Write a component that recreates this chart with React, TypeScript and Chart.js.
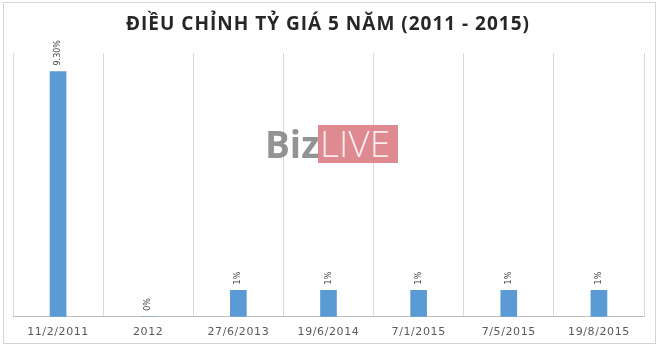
import React, { useEffect, useRef } from "react";
import { Chart, registerables } from "chart.js";

Chart.register(...registerables);

const titleText = "ĐIỀU CHỈNH TỶ GIÁ 5 NĂM (2011 - 2015)";
const categories = ["11/2/2011", "2012", "27/6/2013", "19/6/2014", "7/1/2015", "7/5/2015", "19/8/2015"];
const values = [9.3, 0, 1, 1, 1, 1, 1];
const valueLabels = ["9.30%", "0%", "1%", "1%", "1%", "1%", "1%"];
const yMax = 10;

const decorPlugin = {
  id: "decor",
  beforeDraw(chart: any) {
    const ctx = chart.ctx;
    ctx.save();
    ctx.fillStyle = "#ffffff";
    ctx.fillRect(0, 0, chart.width, chart.height);
    ctx.strokeStyle = "#d4d4d4";
    ctx.lineWidth = 1;
    ctx.strokeRect(3.5, 2.5, 652, 341);
    ctx.fillStyle = "#262626";
    ctx.font = "bold 19px 'Open Sans'";
    (ctx as any).letterSpacing = "1px";
    ctx.textAlign = "center";
    ctx.textBaseline = "alphabetic";
    ctx.fillText(titleText, 328, 30);
    ctx.restore();
    // spacing for the category labels drawn next
    (ctx as any).letterSpacing = "0.6px";
  },
  beforeDatasetsDraw(chart: any) {
    (chart.ctx as any).letterSpacing = "0px";
  },
  afterDatasetsDraw(chart: any) {
    const ctx = chart.ctx;
    const meta = chart.getDatasetMeta(0);
    ctx.save();
    ctx.fillStyle = "#404040";
    ctx.font = "8px 'DejaVu Sans'";
    ctx.textAlign = "left";
    ctx.textBaseline = "middle";
    meta.data.forEach((bar: any, i: number) => {
      ctx.save();
      ctx.translate(bar.x, bar.y - 6);
      ctx.rotate(-Math.PI / 2);
      ctx.fillText(valueLabels[i], 0, 0);
      ctx.restore();
    });
    // watermark
    ctx.globalAlpha = 0.85;
    ctx.fillStyle = "#808080";
    ctx.font = "bold 37px 'Open Sans'";
    ctx.textAlign = "left";
    ctx.textBaseline = "alphabetic";
    ctx.fillText("Biz", 265, 158);
    ctx.fillStyle = "#d9747e";
    ctx.fillRect(318, 125, 80, 38);
    ctx.fillStyle = "#ffffff";
    ctx.font = "300 37px 'Open Sans'";
    ctx.fillText("LIVE", 320, 157);
    ctx.restore();
  },
};

export default function App() {
  const ref = useRef<HTMLCanvasElement>(null);
  useEffect(() => {
    if (!ref.current) return;
    const chart = new Chart(ref.current, {
      type: "bar",
      data: {
        labels: categories,
        datasets: [
          {
            data: values,
            backgroundColor: "#5b9bd5",
            barThickness: 16,
          },
        ],
      },
      options: {
        animation: false,
        responsive: false,
        layout: { padding: { left: 13, right: 16, top: 53, bottom: -3 } },
        plugins: {
          legend: { display: false },
          title: { display: false },
          tooltip: { enabled: false },
        },
        scales: {
          x: {
            offset: true,
            grid: { display: true, offset: true, color: "#d9d9d9", drawTicks: false },
            border: { display: true, color: "#bfbfbf" },
            ticks: {
              color: "#595959",
              font: { family: "'DejaVu Sans'", size: 11 },
              padding: 9,
              maxRotation: 0,
              autoSkip: false,
            },
          },
          y: { display: false, min: 0, max: yMax },
        },
      },
      plugins: [decorPlugin],
    });
    return () => chart.destroy();
  }, []);
  return (
    <div style={{ position: "absolute", left: 0, top: 0, width: 660, height: 345 }}>
      <canvas ref={ref} width={660} height={345} />
    </div>
  );
}
